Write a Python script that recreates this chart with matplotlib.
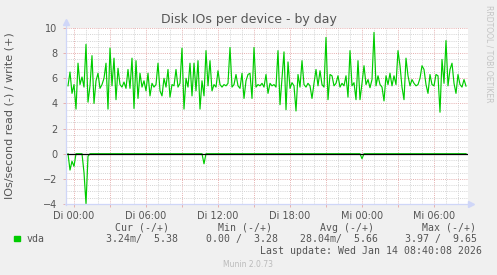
# Munin style "Disk IOs per device - by day" chart
import numpy as np
import matplotlib.pyplot as plt
from matplotlib.patches import Rectangle

# Sampling: one value every 10 minutes, hours counted from Di 00:00
start_hour = -0.5
step_hour = 1 / 6

# vda write IOs/second (+)
write_ios = [
    5.4, 6.5, 4.8, 5.5, 3.55, 7.2, 5.5, 6.1, 5.3, 8.7,
    4.1, 5.4, 7.8, 4.0, 5.8, 6.4, 5.2, 5.5, 6.0, 7.2,
    3.55, 8.4, 5.4, 7.6, 4.3, 6.8, 5.5, 5.3, 5.7, 5.2,
    6.7, 5.2, 7.6, 3.6, 7.4, 4.4, 6.4, 5.3, 5.8, 5.0,
    6.4, 4.6, 5.6, 5.3, 5.5, 7.2, 5.0, 4.6, 6.0, 5.3,
    6.7, 4.5, 5.5, 5.4, 6.7, 5.3, 5.6, 8.4, 3.55, 6.0,
    5.3, 7.2, 4.6, 7.2, 5.0, 7.4, 3.55, 5.8, 4.6, 8.2,
    5.4, 7.4, 5.0, 5.5, 5.3, 6.6, 5.5, 5.3, 5.5, 5.4,
    5.6, 8.45, 5.3, 5.5, 6.3, 5.4, 5.2, 6.4, 4.4, 5.8,
    6.3, 6.4, 4.4, 8.45, 5.3, 5.5, 5.4, 5.6, 5.3, 6.3,
    4.8, 5.6, 5.4, 5.5, 5.3, 8.2, 3.9, 6.0, 8.1, 3.5,
    7.3, 5.2, 5.65, 5.4, 3.4, 6.3, 5.3, 7.4, 5.5, 5.3,
    5.6, 5.4, 4.4, 5.6, 6.7, 5.4, 6.6, 5.5, 5.3, 9.25,
    4.3, 6.3, 6.2, 5.4, 5.6, 6.2, 5.3, 5.6, 5.4, 6.2,
    4.5, 8.2, 5.4, 5.65, 4.3, 7.4, 4.3, 5.6, 7.0, 5.5,
    5.9, 5.25, 5.9, 9.65, 5.4, 6.2, 5.5, 5.3, 4.2, 6.2,
    5.5, 6.4, 5.4, 6.2, 5.5, 8.2, 7.0, 5.3, 4.3, 7.6,
    6.2, 5.4, 5.9, 5.6, 5.4, 5.5, 6.0, 7.0, 6.7, 5.5,
    4.8, 6.3, 5.5, 5.4, 6.3, 6.2, 3.3, 7.5, 5.6, 9.0,
    5.4, 6.7, 7.2, 5.6, 4.8, 6.3, 5.5, 5.3, 5.9, 5.38,
]

# vda read IOs/second, drawn negative (-)
read_ios = [
    0, -1.3, -0.6, -1.0, 0, 0, 0, 0, -1.5, -3.97,
    -0.2, 0, 0, 0, 0, 0, 0, 0, 0, 0,
    0, 0, 0, 0, 0, 0, 0, 0, 0, 0,
    0, 0, 0, 0, 0, 0, 0, 0, 0, 0,
    0, 0, 0, 0, 0, 0, 0, 0, 0, 0,
    0, 0, 0, 0, 0, 0, 0, 0, 0, 0,
    0, 0, 0, 0, 0, 0, 0, 0, -0.8, 0,
    0, 0, 0, 0, 0, 0, 0, 0, 0, 0,
    0, 0, 0, 0, 0, 0, 0, 0, 0, 0,
    0, 0, 0, 0, 0, 0, 0, 0, 0, 0,
    0, 0, 0, 0, 0, 0, 0, 0, 0, 0,
    0, 0, 0, 0, 0, 0, 0, 0, 0, 0,
    0, 0, 0, 0, 0, 0, 0, 0, 0, 0,
    0, 0, 0, 0, 0, 0, 0, 0, 0, 0,
    0, 0, 0, 0, 0, 0, 0, -0.4, 0, 0,
    0, 0, 0, 0, 0, 0, 0, 0, 0, 0,
    0, 0, 0, 0, 0, 0, 0, 0, 0, 0,
    0, 0, 0, 0, 0, 0, 0, 0, 0, 0,
    0, 0, 0, 0, 0, 0, 0, 0, 0, 0,
    0, 0, 0, 0, 0, 0, 0, 0, 0, 0,
]

x_tick_hours = [0, 3, 6, 9, 12, 15, 18, 21, 24, 27, 30]
x_tick_labels = ["Di 00:00", "", "Di 06:00", "", "Di 12:00", "",
                 "Di 18:00", "", "Mi 00:00", "", "Mi 06:00"]
y_ticks = [-4, -2, 0, 2, 4, 6, 8, 10]

legend_headers = ["Cur (-/+)", "Min (-/+)", "Avg (-/+)", "Max (-/+)"]
legend_values = ["3.24m/  5.38", "0.00 /  3.28", "28.04m/  5.66", "3.97 /  9.65"]

hours = start_hour + np.arange(len(write_ios)) * step_hour

# Colours
BACK = "#F0F0F0"
FONT = "#555555"
AXIS = "#CFD6F8"
LINE = "#00CC00"
MINOR = "#D4D4D4"
MAJOR = "#E6B0B0"

W, H = 497, 275
fig = plt.figure(figsize=(W / 100, H / 100), dpi=100, facecolor=BACK)
ax = fig.add_axes([66 / W, 71 / H, 402 / W, 176 / H])
ax.set_facecolor("white")

x_min, x_max = -2 / 3, 32 + 5 / 6
ax.set_xlim(x_min, x_max)
ax.set_ylim(-4, 10)

# Grid
ax.set_xticks(x_tick_hours)
ax.set_xticklabels(x_tick_labels)
ax.set_xticks(np.arange(0, 33, 1), minor=True)
ax.set_yticks(y_ticks)
ax.set_yticks(np.arange(-4, 10.01, 0.5), minor=True)
ax.grid(which="minor", color=MINOR, linestyle=(0, (1, 1.2)), linewidth=0.7, zorder=0)
ax.grid(which="major", color=MAJOR, linestyle=(0, (1, 1.2)), linewidth=0.7, zorder=0)
ax.set_axisbelow(True)

ax.tick_params(which="major", length=2, width=0.7, color=MAJOR, labelsize=7,
               labelcolor=FONT)
ax.tick_params(which="minor", length=0)
ax.tick_params(axis="x", pad=3)
ax.tick_params(axis="y", pad=4)
for s in ax.spines.values():
    s.set_visible(False)

# Data lines
ax.plot(hours, write_ios, color=LINE, linewidth=0.85, zorder=3)
ax.plot(hours, read_ios, color=LINE, linewidth=0.85, zorder=3)
ax.axhline(0, color="black", linewidth=0.9, zorder=4)

# Axis lines with arrows
ax.plot([x_min, x_min], [-4.1, 10.45], color=AXIS, linewidth=0.9, clip_on=False, zorder=5)
ax.plot([x_min - 0.1, 33.05], [-4, -4], color=AXIS, linewidth=0.9, clip_on=False, zorder=5)
ax.plot([x_min], [10.45], marker="^", markersize=4, color=AXIS, clip_on=False, zorder=5)
ax.plot([33.1], [-4], marker=">", markersize=4, color=AXIS, clip_on=False, zorder=5)

# Titles
fig.text(248.5 / W, 1 - 19 / H, "Disk IOs per device - by day", ha="center",
         va="center", fontsize=9, color=FONT)
fig.text(10 / W, 1 - 116 / H, "IOs/second read (-) / write (+)", ha="center",
         va="center", rotation=90, fontsize=8, color=FONT)
fig.text(488.5 / W, 1 - 5 / H, "RRDTOOL / TOBI OETIKER", ha="center", va="top",
         rotation=270, fontsize=5.5, color="#C4C4C4")

# Legend
mono = "DejaVu Sans Mono"
fig.add_artist(Rectangle((14 / W, 1 - 241 / H), 5.5 / W, 5.5 / H,
                         transform=fig.transFigure, color=LINE))
fig.text(27 / W, 1 - 239.3 / H, "vda", ha="left", va="center", fontsize=7.1,
         family=mono, color=FONT)
for text, right in zip(legend_headers, [169, 272, 374, 476]):
    fig.text(right / W, 1 - 227.7 / H, text, ha="right", va="center",
             fontsize=7.1, family=mono, color=FONT)
for text, right in zip(legend_values, [178, 278, 378, 477]):
    fig.text(right / W, 1 - 239.3 / H, text, ha="right", va="center",
             fontsize=7.1, family=mono, color=FONT)
fig.text(482 / W, 1 - 251 / H, "Last update: Wed Jan 14 08:40:08 2026",
         ha="right", va="center", fontsize=7.1, family=mono, color=FONT)
fig.text(248 / W, 1 - 264.3 / H, "Munin 2.0.73", ha="center", va="center",
         fontsize=5.5, color="#BBBBBB")

fig.savefig("out.png", dpi=100, facecolor=BACK)
